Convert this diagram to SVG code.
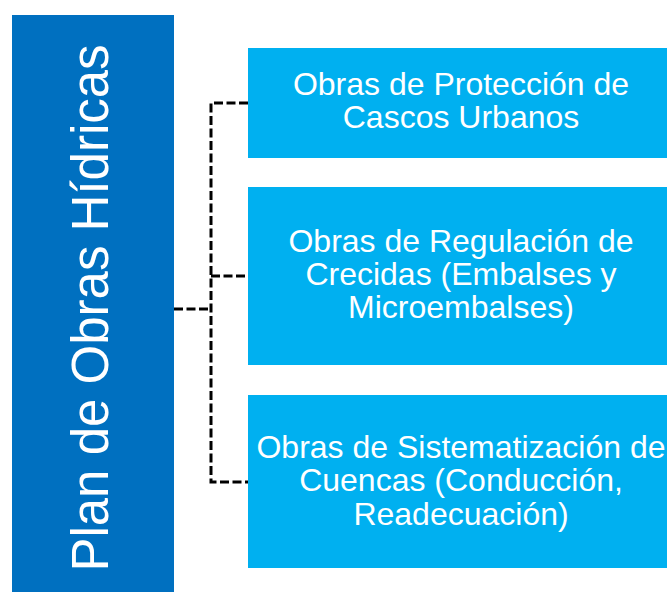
<svg xmlns="http://www.w3.org/2000/svg" width="667" height="592" viewBox="0 0 667 592">
<style>
.main{fill:#0070C0}
.box{fill:#00B0F0}
.t{font-family:"Liberation Sans",Arial,sans-serif;fill:#fff;text-anchor:middle}
.tb{font-size:32px}
.tm{font-size:51px}
.conn{fill:none;stroke:#000;stroke-width:3;stroke-dasharray:9 3.5}
</style>
<rect width="667" height="592" fill="#fff"/>
<g id="main">
<rect class="main" x="12" y="15" width="162" height="577"/>
<text class="t tm" transform="translate(108,308) rotate(-90)">Plan de Obras Hídricas</text>
</g>
<g id="connectors">
<path class="conn" d="M174,309 H211"/>
<path class="conn" d="M248,103 H211 V482 H248"/>
<path class="conn" d="M211,276 H248"/>
</g>
<g id="box1">
<rect class="box" x="248" y="48" width="426" height="110"/>
<text class="t tb" x="461" y="95">Obras de Protección de</text>
<text class="t tb" x="461" y="128.3">Cascos Urbanos</text>
</g>
<g id="box2">
<rect class="box" x="248" y="187" width="426" height="178"/>
<text class="t tb" x="461" y="251.7">Obras de Regulación de</text>
<text class="t tb" x="461" y="285">Crecidas (Embalses y</text>
<text class="t tb" x="461" y="318.3">Microembalses)</text>
</g>
<g id="box3">
<rect class="box" x="248" y="395" width="426" height="173"/>
<text class="t tb" x="461" y="458">Obras de Sistematización de</text>
<text class="t tb" x="461" y="491.3">Cuencas (Conducción,</text>
<text class="t tb" x="461" y="524.6">Readecuación)</text>
</g>
</svg>
